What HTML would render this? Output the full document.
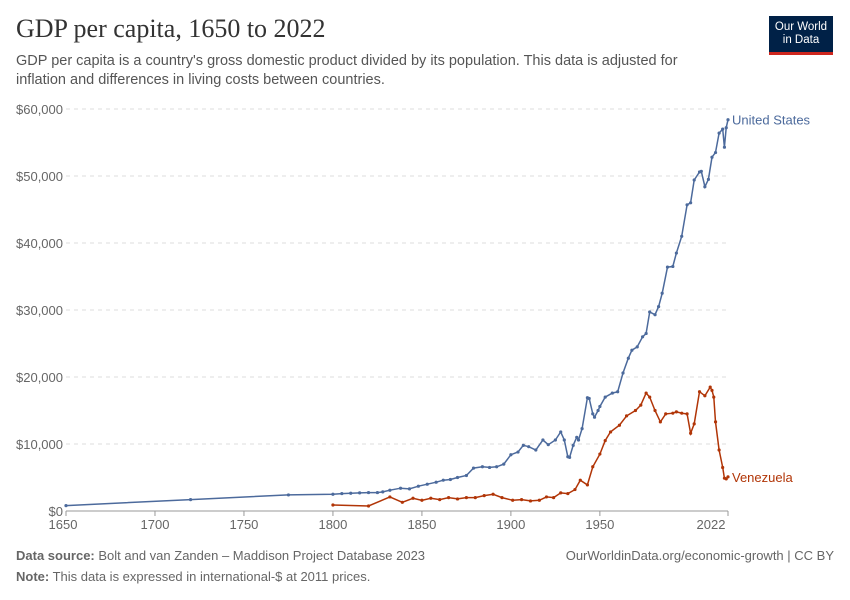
<!DOCTYPE html>
<html><head><meta charset="utf-8"><style>
body{margin:0;background:#fff;font-family:"Liberation Sans",sans-serif;}
#wrap{position:relative;width:850px;height:600px;overflow:hidden;}
.t{position:absolute;margin:0;}
</style></head><body>
<div id="wrap">
<h1 class="t" style="left:16px;top:14px;font-family:'Liberation Serif',serif;font-size:26px;font-weight:normal;color:#333;">GDP per capita, 1650 to 2022</h1>
<p class="t" style="left:16px;top:52px;font-size:14.5px;line-height:19px;color:#555;width:700px;">GDP per capita is a country's gross domestic product divided by its population. This data is adjusted for inflation and differences in living costs between countries.</p>
<div class="t" style="left:769px;top:16px;width:64px;background:#002147;border-bottom:3px solid #ce261e;color:#fff;font-size:11.5px;line-height:13px;text-align:center;padding-top:5px;box-sizing:border-box;height:39px;">Our World<br>in Data</div>
<svg id="chart" width="850" height="600" style="position:absolute;left:0;top:0"></svg>
<div class="t" style="left:16px;top:548px;font-size:13px;color:#666;"><b>Data source:</b> Bolt and van Zanden – Maddison Project Database 2023</div>
<div class="t" style="right:16px;top:548px;font-size:13px;color:#666;">OurWorldinData.org/economic-growth | CC BY</div>
<div class="t" style="left:16px;top:569px;font-size:13px;color:#666;"><b>Note:</b> This data is expressed in international-$ at 2011 prices.</div>
</div>
<script>
const xTicks=[1650,1700,1750,1800,1850,1900,1950,2022];
const yTicks=[0,10000,20000,30000,40000,50000,60000];
const yTickLabels=["$0","$10,000","$20,000","$30,000","$40,000","$50,000","$60,000"];
const usYears=[1650,1720,1775,1800,1805,1810,1815,1820,1825,1828,1832,1838,1843,1848,1853,1858,1862,1866,1870,1875,1879,1884,1888,1892,1896,1900,1904,1907,1910,1914,1918,1921,1925,1928,1930,1932,1933,1935,1937,1938,1940,1943,1944,1946,1947,1949,1950,1953,1957,1960,1963,1966,1968,1971,1974,1976,1978,1981,1983,1985,1988,1991,1993,1996,1999,2001,2003,2006,2007,2009,2011,2013,2015,2017,2019,2020,2021,2022];
const usValues=[800,1700,2400,2500,2600,2650,2700,2750,2750,2850,3100,3400,3300,3700,4000,4300,4600,4700,5000,5300,6400,6600,6500,6600,7000,8400,8800,9800,9600,9100,10600,9900,10600,11800,10600,8100,8000,9800,11000,10600,12300,16900,16800,14500,14000,15000,15600,17000,17600,17800,20600,22800,24000,24500,26000,26500,29700,29300,30500,32500,36400,36500,38500,41000,45700,46000,49400,50600,50700,48400,49500,52800,53500,56400,57000,54300,57200,58400];
const veYears=[1800,1820,1832,1839,1845,1850,1855,1860,1865,1870,1875,1880,1885,1890,1895,1901,1906,1911,1916,1920,1924,1928,1932,1936,1939,1943,1946,1950,1953,1956,1961,1965,1970,1973,1976,1978,1981,1984,1987,1991,1993,1996,1999,2001,2003,2006,2009,2012,2013,2014,2015,2017,2019,2020,2021,2022];
const veValues=[900,750,2100,1300,1900,1600,1900,1700,2000,1800,2000,2000,2300,2500,2000,1600,1700,1500,1600,2100,2000,2700,2600,3200,4600,3900,6600,8500,10500,11800,12800,14200,15000,15800,17600,17000,15000,13300,14500,14600,14800,14600,14500,11600,13000,17800,17200,18500,18000,17000,13300,9100,6500,4900,4800,5100];
const ns="http://www.w3.org/2000/svg";
const svg=document.getElementById('chart');
const X0=66,X1=728,Y0=511,Y1=109;
function sx(y){return X0+(y-1650)/(2022-1650)*(X1-X0);}
function sy(v){return Y0-v/60000*(Y0-Y1);}
function mk(tag,attrs){const e=document.createElementNS(ns,tag);for(const k in attrs)e.setAttribute(k,attrs[k]);svg.appendChild(e);return e;}
yTicks.forEach((v,i)=>{
  const l=mk('line',{x1:X0,x2:X1,y1:sy(v),y2:sy(v),stroke:v===0?'#999':'#ddd','stroke-dasharray':v===0?'':'4,4'});
  
  
  const t=mk('text',{x:63,y:sy(v)+5,'text-anchor':'end','font-size':13,fill:'#666','font-family':'Liberation Sans'});
  t.textContent=yTickLabels[i];
  
  
});
xTicks.forEach(y=>{
  const l=mk('line',{x1:sx(y),x2:sx(y),y1:Y0,y2:Y0+5,stroke:'#999'});
  
  
  const lx=y===2022?711:(y===1650?63:sx(y));
  const t=mk('text',{x:lx,y:529,'text-anchor':'middle','font-size':13,fill:'#666','font-family':'Liberation Sans'});
  t.textContent=y;
  
  
});
function series(years,vals,color,name,label){
  const d=years.map((y,i)=>(i?'L':'M')+sx(y).toFixed(1)+','+sy(vals[i]).toFixed(1)).join('');
  const p=mk('path',{d:d,fill:'none',stroke:color,'stroke-width':1.5});
  
  
  years.forEach((y,i)=>{
    const c=mk('circle',{cx:sx(y),cy:sy(vals[i]),r:1.6,fill:color});
    
    
  });
  const n=years.length-1;
  const t=mk('text',{x:sx(years[n])+4,y:sy(vals[n])+5,'font-size':13,fill:color,'font-family':'Liberation Sans'});
  t.textContent=label;
  
  
}
series(usYears,usValues,'#4c6a9c','united-states','United States');
series(veYears,veValues,'#b13507','venezuela','Venezuela');
</script>
</body></html>
